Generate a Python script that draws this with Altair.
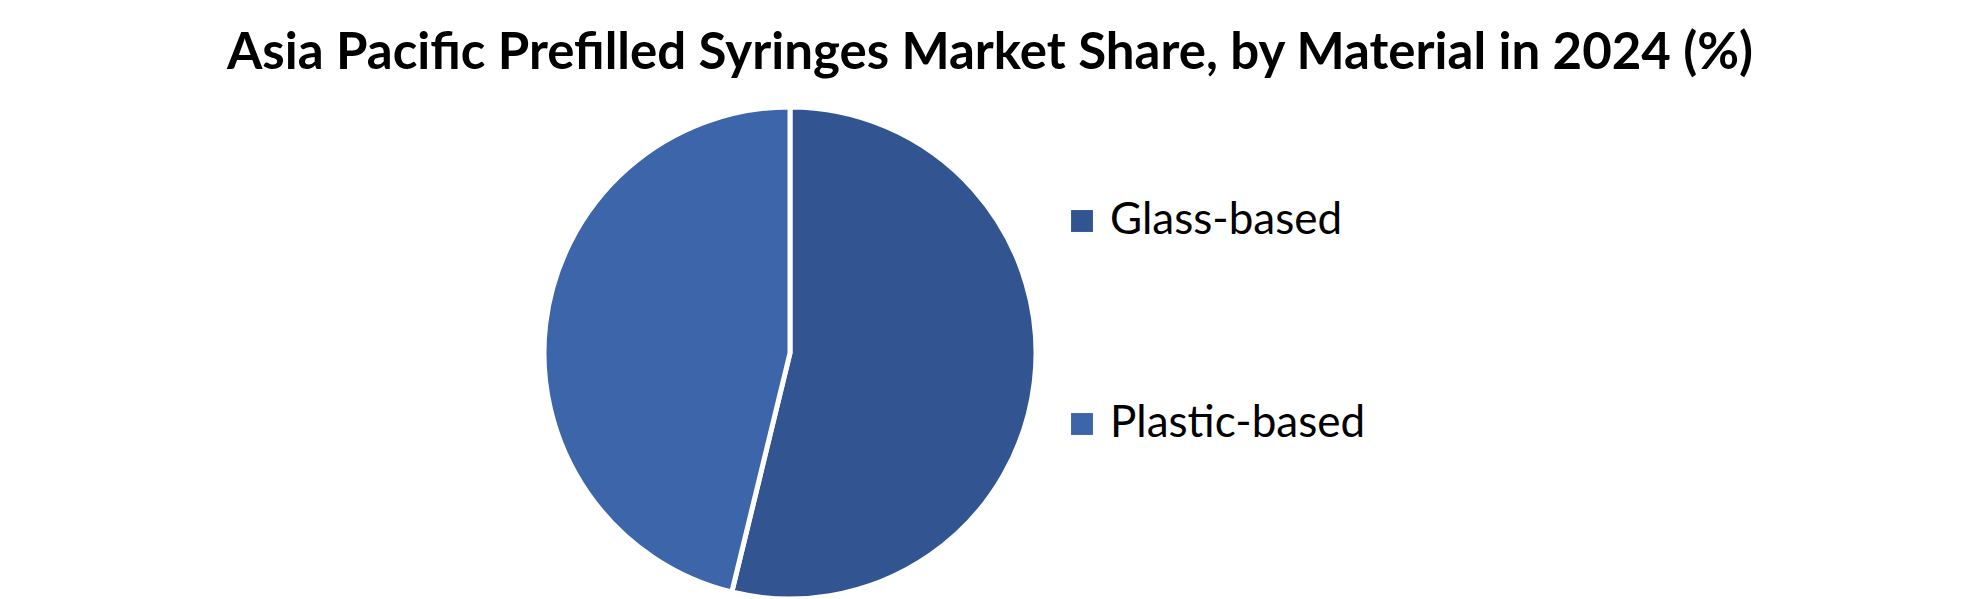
import altair as alt
import pandas as pd

materials = ["Glass-based", "Plastic-based"]
shares = [53.8, 46.2]
order_idx = [0, 1]
colors = ["#325591", "#3D65A9"]

df = pd.DataFrame({"Material": materials, "Share": shares, "idx": order_idx})

title = "Asia Pacific Prefilled Syringes Market Share, by Material in 2024 (%)"

chart = alt.Chart(df).mark_arc(radius=246, stroke="white", strokeWidth=5).encode(
    theta=alt.Theta("Share:Q", stack=True),
    order=alt.Order("idx:Q"),
    x=alt.value(782),
    y=alt.value(246),
    color=alt.Color(
        "Material:N",
        scale=alt.Scale(domain=materials, range=colors),
        legend=alt.Legend(
            title=None,
            orient="none",
            legendX=1052,
            legendY=92,
            symbolType="square",
            symbolSize=480,
            symbolStrokeWidth=0,
            labelFont="Lato",
            labelFontSize=44,
            labelColor="#000000",
            labelOffset=6,
            labelLimit=0,
            rowPadding=159,
            padding=0,
        ),
    ),
).properties(
    width=1964,
    height=492,
    title=alt.TitleParams(
        text=title,
        font="Lato",
        fontSize=51,
        fontWeight="bold",
        color="#000000",
        anchor="middle",
        offset=17,
    ),
    padding={"top": 20, "left": 0, "right": 0, "bottom": 0},
).configure_view(stroke=None)

chart.save("out.html", embed_options={"renderer": "svg", "actions": False})
